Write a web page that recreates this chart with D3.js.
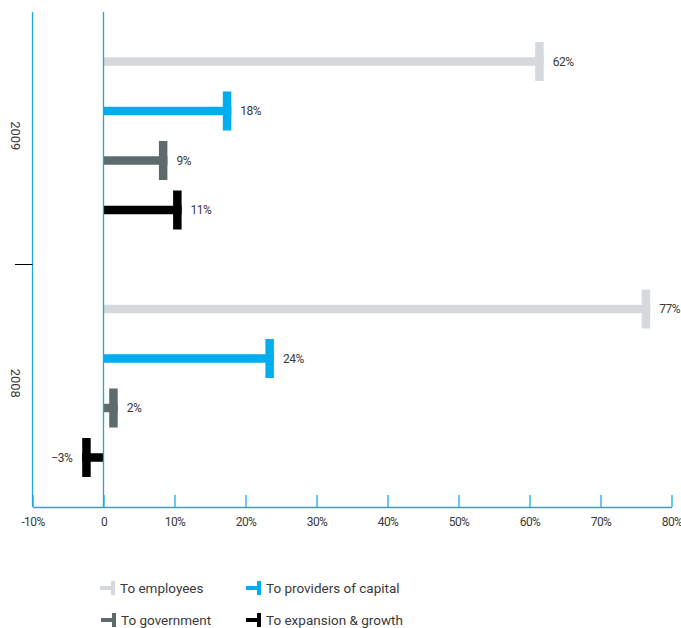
<!DOCTYPE html>
<html>
<head>
<meta charset="utf-8">
<script src="https://cdn.jsdelivr.net/npm/d3@7"></script>
<style>
  html, body { margin: 0; padding: 0; background: #fff; }
  svg text { font-family: Roboto, "Noto Sans", sans-serif; fill: #3a3a3a; }
</style>
</head>
<body>
<svg id="chart" width="681" height="628"></svg>
<script>
// Value added distribution, by year
const years = ["2009", "2008"];
const series = ["To employees", "To providers of capital", "To government", "To expansion & growth"];
const colors = ["#d6d9db", "#00aeef", "#5e6b6c", "#000000"];
const values2009 = [62, 18, 9, 11];
const values2008 = [77, 24, 2, -3];
const xTicks = [-10, 0, 10, 20, 30, 40, 50, 60, 70, 80];

const svg = d3.select("#chart");
const plotLeft = 32.5, plotRight = 671.5, plotTop = 12, plotBottom = 507;

const x = d3.scaleLinear().domain([-10, 80]).range([plotLeft, plotRight]);
// ten slots: four bars per year with an empty slot between the years
const slot = d3.scaleLinear().domain([0, 10]).range([plotTop, plotBottom]);

const rows = [];
[values2009, values2008].forEach((vals, g) => {
  vals.forEach((v, i) => rows.push({ year: years[g], series: i, value: v, slot: g * 5 + i + 1 }));
});

const barH = 8.5, capW = 8.5, capH = 39;
const axisBlue = "#1aa9e4";

// bars: a stem from zero plus an end cap at the value
const bars = svg.append("g");
bars.selectAll("rect.stem").data(rows).join("rect")
  .attr("class", "stem")
  .attr("x", d => Math.min(x(0), x(d.value)))
  .attr("width", d => Math.abs(x(d.value) - x(0)))
  .attr("y", d => slot(d.slot) - barH / 2)
  .attr("height", barH)
  .attr("fill", d => colors[d.series]);
bars.selectAll("rect.cap").data(rows).join("rect")
  .attr("class", "cap")
  .attr("x", d => d.value >= 0 ? x(d.value) - capW : x(d.value))
  .attr("width", capW)
  .attr("y", d => slot(d.slot) - capH / 2)
  .attr("height", capH)
  .attr("fill", d => colors[d.series]);

// value labels
svg.append("g").selectAll("text").data(rows).join("text")
  .attr("x", d => d.value >= 0 ? x(d.value) + 9 : x(d.value) - 10)
  .attr("y", d => slot(d.slot))
  .attr("dy", "0.35em")
  .attr("text-anchor", d => d.value >= 0 ? "start" : "end")
  .attr("font-size", 12)
  .attr("letter-spacing", -0.5)
  .text(d => (d.value < 0 ? "\u2212" + Math.abs(d.value) : d.value) + "%");

// x axis with upward ticks
const xAxis = svg.append("g")
  .attr("transform", `translate(0,${plotBottom})`)
  .call(d3.axisBottom(x).tickValues(xTicks).tickSize(-12).tickSizeOuter(0).tickPadding(10)
    .tickFormat(d => d === 0 ? "0" : d + "%"));
xAxis.select(".domain").attr("stroke", axisBlue).attr("stroke-width", 1.3);
xAxis.selectAll(".tick line").attr("stroke", axisBlue).attr("stroke-width", 1.3);
xAxis.selectAll(".tick text").attr("font-size", 12).attr("fill", "#3a3a3a")
  .attr("letter-spacing", -0.6)
  .style("font-family", "Roboto, 'Noto Sans', sans-serif");

// left axis and zero line
svg.append("line").attr("x1", plotLeft).attr("x2", plotLeft).attr("y1", plotTop).attr("y2", plotBottom)
  .attr("stroke", axisBlue).attr("stroke-width", 1.3);
svg.append("line").attr("x1", x(0)).attr("x2", x(0)).attr("y1", plotTop).attr("y2", plotBottom)
  .attr("stroke", axisBlue).attr("stroke-width", 1.3);

// year separator tick and year labels
svg.append("line").attr("x1", 15).attr("x2", plotLeft).attr("y1", slot(5) + 5).attr("y2", slot(5) + 5)
  .attr("stroke", "#000").attr("stroke-width", 1);
years.forEach((yr, g) => {
  const cy = slot(g * 5 + 2.5);
  svg.append("text")
    .attr("transform", `translate(16,${cy}) rotate(90)`)
    .attr("text-anchor", "middle")
    .attr("dy", "0.35em")
    .attr("font-size", 13)
    .text(yr);
});

// legend
const legendPos = [[100, 588], [246, 588], [101, 620], [246, 620]];
series.forEach((name, i) => {
  const [lx, ly] = legendPos[i];
  const g = svg.append("g").attr("transform", `translate(${lx},${ly})`);
  g.append("rect").attr("x", 0).attr("y", -2).attr("width", 13).attr("height", 4).attr("fill", colors[i]);
  g.append("rect").attr("x", 11).attr("y", -7).attr("width", 4).attr("height", 14).attr("fill", colors[i]);
  g.append("text").attr("x", 20).attr("dy", "0.35em").attr("font-size", 13.5).text(name);
});
</script>
</body>
</html>
